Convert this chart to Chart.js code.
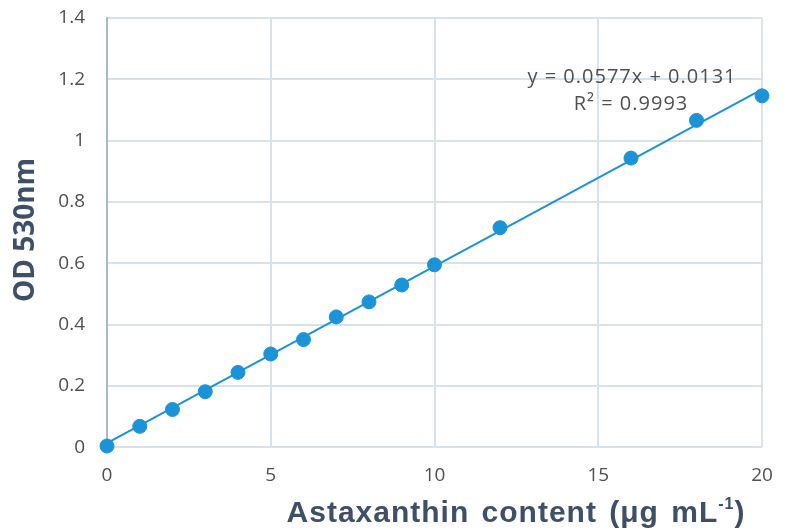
<!DOCTYPE html>
<html>
<head>
<meta charset="utf-8">
<script src="https://cdn.jsdelivr.net/npm/chart.js@4/dist/chart.umd.min.js"></script>
<style>
  html, body { margin: 0; padding: 0; background: #fff; }
  #c { display: block; }
</style>
</head>
<body>
<canvas id="c" width="794" height="532"></canvas>
<script>
// concentration (µg/mL) and measured OD at 530 nm
var conc = [0, 1, 2, 3, 4, 5, 6, 7, 8, 9, 10, 12, 16, 18, 20];
var od = [0.004, 0.068, 0.123, 0.181, 0.244, 0.304, 0.351, 0.425, 0.474, 0.529, 0.595, 0.716, 0.943, 1.066, 1.146];

// linear trendline ends, from the fitted equation on the chart
var trendX = [0, 20];
var trendY = [0.0131, 1.1671];
var eqText = ["y = 0.0577x + 0.0131", "R² = 0.9993"];

var xTicks = [0, 5, 10, 15, 20];
var yTicks = [0, 0.2, 0.4, 0.6, 0.8, 1, 1.2, 1.4];

var blue = "#1b93d6";
var gridCol = "#d9e1ea";
var textCol = "#505050";
var titleCol = "#3e5068";

var points = [];
for (var i = 0; i < conc.length; i++) points.push({x: conc[i], y: od[i]});
var trend = [];
for (var j = 0; j < trendX.length; j++) trend.push({x: trendX[j], y: trendY[j]});

// regression equation + axis titles (x title has a superscript)
var textPlugin = {
  id: "texts",
  afterDraw: function(chart) {
    var ctx = chart.ctx;
    ctx.save();
    ctx.fillStyle = textCol;
    ctx.textAlign = "center";
    ctx.textBaseline = "middle";
    ctx.font = "20px 'Open Sans'";
    ctx.letterSpacing = "1px";
    ctx.fillText(eqText[0], 632, 77);
    ctx.fillText(eqText[1], 631, 104);

    // y title
    ctx.letterSpacing = "0px";
    ctx.fillStyle = titleCol;
    ctx.font = "bold 28px 'Open Sans'";
    ctx.translate(26, 230);
    ctx.rotate(-Math.PI / 2);
    ctx.fillText("OD 530nm", 0, 0);
    ctx.setTransform(1, 0, 0, 1, 0, 0);

    // x title
    var a = "Astaxanthin content (μg mL", sup = "-1", b = ")";
    var big = "bold 30px 'Liberation Sans'", small = "bold 16px 'Liberation Sans'";
    ctx.textAlign = "left";
    ctx.textBaseline = "alphabetic";
    ctx.letterSpacing = "1px";
    ctx.wordSpacing = "3px";
    ctx.font = big;
    var wa = ctx.measureText(a).width, wb = ctx.measureText(b).width;
    ctx.font = small;
    var ws = ctx.measureText(sup).width;
    var x0 = 516 - (wa + ws + wb) / 2, base = 522;
    ctx.font = big;
    ctx.fillText(a, x0, base);
    ctx.font = small;
    ctx.fillText(sup, x0 + wa, base - 13);
    ctx.font = big;
    ctx.fillText(b, x0 + wa + ws, base);
    ctx.restore();
  }
};

new Chart(document.getElementById("c"), {
  type: "scatter",
  data: {
    datasets: [
      {
        data: points,
        showLine: false,
        pointRadius: 7,
        pointHoverRadius: 7,
        pointBackgroundColor: blue,
        pointBorderColor: blue,
        clip: false,
        order: 0
      },
      {
        data: trend,
        showLine: true,
        borderColor: blue,
        borderWidth: 2,
        pointRadius: 0,
        fill: false,
        order: 1
      }
    ]
  },
  options: {
    responsive: false,
    animation: false,
    layout: { padding: { top: 18, right: 32, left: 0, bottom: 28 } },
    plugins: {
      legend: { display: false },
      tooltip: { enabled: false }
    },
    scales: {
      x: {
        type: "linear",
        min: 0, max: 20,
        afterBuildTicks: function(s) { s.ticks = xTicks.map(function(v) { return {value: v}; }); },
        afterFit: function(s) { s.paddingLeft = 0; s.paddingRight = 0; },
        grid: { color: gridCol, lineWidth: 2, drawTicks: false },
        border: { display: false },
        ticks: { color: textCol, font: { family: "Open Sans", size: 19 }, padding: 17 }
      },
      y: {
        type: "linear",
        min: 0, max: 1.4,
        afterBuildTicks: function(s) { s.ticks = yTicks.map(function(v) { return {value: v}; }); },
        afterFit: function(s) { s.width = 107; s.paddingTop = 0; s.paddingBottom = 0; },
        grid: { color: gridCol, lineWidth: 2, drawTicks: false },
        border: { display: true, color: "#a9b8cc", width: 2 },
        ticks: {
          color: textCol, font: { family: "Open Sans", size: 19 }, padding: 22,
          callback: function(v) { return String(v); }
        }
      }
    }
  },
  plugins: [textPlugin]
});
</script>
</body>
</html>
